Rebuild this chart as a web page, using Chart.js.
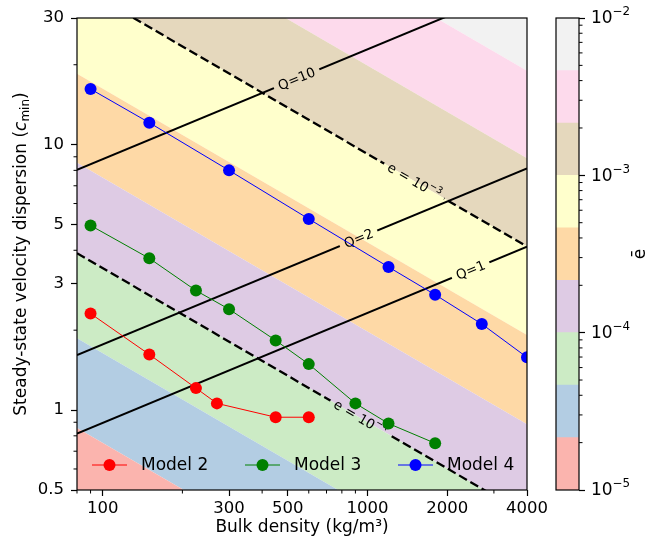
<!DOCTYPE html>
<html>
<head>
<meta charset="utf-8">
<script src="https://cdn.jsdelivr.net/npm/chart.js@4"></script>
<style>
  body { margin: 0; background: #fff; }
  #wrap { position: relative; width: 654px; height: 547px; }
  canvas { position: absolute; top: 0; }
</style>
</head>
<body>
<div id="wrap">
  <canvas id="chart" width="654" height="547" style="left:0"></canvas>
  <canvas id="cbar" width="114" height="547" style="left:540px"></canvas>
</div>
<script>
// ---------- DATOS ----------
const seriesNames = ['Model 2', 'Model 3', 'Model 4'];
const seriesColors = ['red', 'green', 'blue'];
const model2X = [90, 150, 225, 270, 450, 600];
const model2Y = [2.31, 1.62, 1.21, 1.06, 0.94, 0.94];
const model3X = [90, 150, 225, 300, 450, 600, 900, 1200, 1800];
const model3Y = [4.96, 3.73, 2.82, 2.40, 1.83, 1.49, 1.06, 0.89, 0.75];
const model4X = [90, 150, 300, 600, 1200, 1800, 2700, 4000];
const model4Y = [16.2, 12.1, 8.0, 5.25, 3.46, 2.72, 2.11, 1.58];

// niveles de ē (barra de color) y colores Pastel1
const eLevels = [1e-5, 2.15e-5, 4.64e-5, 1e-4, 2.15e-4, 4.64e-4, 1e-3, 2.15e-3, 4.64e-3, 1e-2];
const bandColors = ['#fbb4ae', '#b3cde3', '#ccebc5', '#decbe4', '#fed9a6', '#ffffcc', '#e5d8bd', '#fddaec', '#f2f2f2'];

// bordes de las bandas: y en x=80 y en x=4000
const bandX = [80, 4000];
const bandLeftY = [0.857, 1.865, 3.90, 8.55, 18.5, 39.9, 85.9, 183.5];
const bandRightY = [0.0886, 0.193, 0.403, 0.885, 1.92, 4.13, 8.88, 18.98];

// líneas Q (continuas) y e (discontinuas)
const qNames = ['Q=10', 'Q=2', 'Q=1'];
const qLeftY = [8.03, 1.61, 0.815];
const qRightY = [40.6, 8.14, 4.13];
const qLabelX = [540, 925, 2450];
const eNames = ['e = 10^-3', 'e = 10^-4'];
const eLeftY = [39.9, 3.90];
const eRightY = [4.13, 0.403];
const eLabelX = [1500, 940];

// ticks
const xTicks = [100, 300, 500, 1000, 2000, 4000];
const xMinor = [80, 90, 200, 400, 600, 700, 800, 900, 3000];
const yTicks = [0.5, 1, 3, 5, 10, 30];
const yMinor = [0.6, 0.7, 0.8, 0.9, 2, 4, 6, 7, 8, 9, 20];
const cbTicks = [1e-5, 1e-4, 1e-3, 1e-2];
const cbTickLabels = ['10^-5', '10^-4', '10^-3', '10^-2'];
const cbMinor = [2e-5, 3e-5, 4e-5, 5e-5, 6e-5, 7e-5, 8e-5, 9e-5,
                 2e-4, 3e-4, 4e-4, 5e-4, 6e-4, 7e-4, 8e-4, 9e-4,
                 2e-3, 3e-3, 4e-3, 5e-3, 6e-3, 7e-3, 8e-3, 9e-3];

const FONT = 'DejaVu Sans';
const LABEL_SIZE = 13.5;

// texto con exponente "base^sup"
function mathWidth(ctx, str, size) {
    const [base, sup] = str.split('^');
    ctx.font = size + 'px "DejaVu Sans"';
    let w = ctx.measureText(base).width;
    if (sup) {
        ctx.font = (size * 0.7) + 'px "DejaVu Sans"';
        w += ctx.measureText(sup.replace('-', '−')).width;
    }
    return w;
}
function drawMath(ctx, str, x, y, size, align) {
    const [base, sup] = str.split('^');
    const total = mathWidth(ctx, str, size);
    let x0 = align === 'center' ? x - total / 2 : x;
    ctx.textAlign = 'left';
    ctx.textBaseline = 'middle';
    ctx.font = size + 'px "DejaVu Sans"';
    ctx.fillText(base, x0, y);
    if (sup) {
        x0 += ctx.measureText(base).width;
        ctx.font = (size * 0.7) + 'px "DejaVu Sans"';
        ctx.fillText(sup.replace('-', '−'), x0, y - size * 0.4);
    }
}

// ---------- PLUGINS ----------
const frame = {
    id: 'frame',
    afterDatasetsDraw(chart) {
        const {ctx, chartArea: a} = chart;
        ctx.save();
        ctx.strokeStyle = '#000';
        ctx.lineWidth = 1.2;
        ctx.strokeRect(a.left, a.top, a.right - a.left, a.bottom - a.top);
        ctx.restore();
    }
};

const minorTicks = {
    id: 'minorTicks',
    afterDraw(chart, args, opts) {
        const {ctx, chartArea: a, scales} = chart;
        ctx.save();
        ctx.strokeStyle = '#000';
        ctx.lineWidth = 1;
        ctx.beginPath();
        (opts.x || []).forEach(v => {
            const p = scales.x.getPixelForValue(v);
            ctx.moveTo(p, a.bottom);
            ctx.lineTo(p, a.bottom + 3.5);
        });
        (opts.y || []).forEach(v => {
            const p = scales.y.getPixelForValue(v);
            if (opts.side === 'right') {
                ctx.moveTo(a.right, p);
                ctx.lineTo(a.right + 3.5, p);
            } else {
                ctx.moveTo(a.left - 3.5, p);
                ctx.lineTo(a.left, p);
            }
        });
        ctx.stroke();
        ctx.restore();
    }
};

// geometría de la etiqueta sobre una línea
function labelGeom(chart, index) {
    const ds = chart.data.datasets[index];
    const pts = chart.getDatasetMeta(index).data;
    const p0 = pts[0], p1 = pts[pts.length - 1];
    const cx = chart.scales.x.getPixelForValue(ds.labelAt);
    const t = (cx - p0.x) / (p1.x - p0.x);
    const cy = p0.y + t * (p1.y - p0.y);
    const ang = Math.atan2(p1.y - p0.y, p1.x - p0.x);
    const w = mathWidth(chart.ctx, ds.labelText, LABEL_SIZE) + 10;
    return {cx, cy, ang, w, h: 16};
}

const lineLabels = {
    id: 'lineLabels',
    beforeDatasetDraw(chart, args) {
        const ds = chart.data.datasets[args.index];
        if (!ds.labelText) return;
        const g = labelGeom(chart, args.index);
        const ctx = chart.ctx;
        const c = Math.cos(g.ang), s = Math.sin(g.ang);
        ctx.save();
        ctx.beginPath();
        ctx.rect(0, 0, chart.width, chart.height);
        [[-1, -1], [1, -1], [1, 1], [-1, 1]].forEach(([sx, sy], i) => {
            const dx = sx * g.w / 2, dy = sy * g.h / 2;
            const x = g.cx + dx * c - dy * s, y = g.cy + dx * s + dy * c;
            if (i) ctx.lineTo(x, y); else ctx.moveTo(x, y);
        });
        ctx.closePath();
        ctx.clip('evenodd');
    },
    afterDatasetDraw(chart, args) {
        const ds = chart.data.datasets[args.index];
        if (!ds.labelText) return;
        const ctx = chart.ctx;
        ctx.restore();
        const g = labelGeom(chart, args.index);
        ctx.save();
        ctx.translate(g.cx, g.cy);
        ctx.rotate(g.ang);
        ctx.fillStyle = '#000';
        drawMath(ctx, ds.labelText, 0, 1, LABEL_SIZE, 'center');
        ctx.restore();
    }
};

const modelLegend = {
    id: 'modelLegend',
    afterDatasetsDraw(chart) {
        const {ctx, chartArea: a} = chart;
        const y = a.bottom - 25;
        seriesNames.forEach((name, i) => {
            const x0 = a.left + 15 + i * 153;
            ctx.save();
            ctx.strokeStyle = seriesColors[i];
            ctx.fillStyle = seriesColors[i];
            ctx.lineWidth = 1;
            ctx.beginPath();
            ctx.moveTo(x0, y);
            ctx.lineTo(x0 + 35, y);
            ctx.stroke();
            ctx.beginPath();
            ctx.arc(x0 + 17.5, y, 6, 0, Math.PI * 2);
            ctx.fill();
            ctx.fillStyle = '#000';
            ctx.font = '17px "DejaVu Sans"';
            ctx.textBaseline = 'middle';
            ctx.fillText(name, x0 + 49, y + 1);
            ctx.restore();
        });
    }
};

// título del eje y con subíndice
const yTitle = {
    id: 'yTitle',
    afterDraw(chart) {
        const {ctx, chartArea: a} = chart;
        const parts = [
            {t: 'Steady-state velocity dispersion (', f: '17px "DejaVu Sans"', dy: 0},
            {t: 'c', f: 'italic 17px "DejaVu Sans"', dy: 0},
            {t: 'min', f: '12px "DejaVu Sans"', dy: 4},
            {t: ')', f: '17px "DejaVu Sans"', dy: 0}
        ];
        let total = 0;
        parts.forEach(p => { ctx.font = p.f; p.w = ctx.measureText(p.t).width; total += p.w; });
        ctx.save();
        ctx.translate(22, (a.top + a.bottom) / 2);
        ctx.rotate(-Math.PI / 2);
        ctx.fillStyle = '#000';
        ctx.textBaseline = 'middle';
        let x = -total / 2;
        parts.forEach(p => {
            ctx.font = p.f;
            ctx.fillText(p.t, x, p.dy);
            x += p.w;
        });
        ctx.restore();
    }
};

// etiquetas y título de la barra de color
const cbLabels = {
    id: 'cbLabels',
    afterDraw(chart) {
        const {ctx, chartArea: a, scales} = chart;
        ctx.save();
        ctx.fillStyle = '#000';
        cbTicks.forEach((v, i) => {
            drawMath(ctx, cbTickLabels[i], a.right + 12, scales.y.getPixelForValue(v) + 1, 17, 'left');
        });
        ctx.translate(a.right + 62, (a.top + a.bottom) / 2);
        ctx.rotate(-Math.PI / 2);
        ctx.font = '17px "DejaVu Sans"';
        ctx.textAlign = 'center';
        ctx.textBaseline = 'middle';
        ctx.fillText('ē', 0, 0);
        ctx.restore();
    }
};

// ---------- DATASETS ----------
const datasets = [];

// bandas de ē
bandLeftY.forEach((yl, k) => {
    datasets.push({
        data: [{x: bandX[0], y: yl}, {x: bandX[1], y: bandRightY[k]}],
        borderWidth: 0,
        borderColor: 'transparent',
        backgroundColor: bandColors[k],
        pointRadius: 0,
        fill: k === 0 ? 'start' : '-1',
        order: 3
    });
});
datasets.push({
    data: [{x: bandX[0], y: bandLeftY[7]}, {x: bandX[1], y: bandRightY[7]}],
    borderWidth: 0,
    borderColor: 'transparent',
    backgroundColor: bandColors[8],
    pointRadius: 0,
    fill: 'end',
    order: 3
});

// líneas Q
qNames.forEach((n, i) => {
    datasets.push({
        data: [{x: bandX[0], y: qLeftY[i]}, {x: bandX[1], y: qRightY[i]}],
        borderColor: '#000',
        borderWidth: 2,
        pointRadius: 0,
        fill: false,
        labelText: n,
        labelAt: qLabelX[i],
        order: 2
    });
});

// líneas e
eNames.forEach((n, i) => {
    datasets.push({
        data: [{x: bandX[0], y: eLeftY[i]}, {x: bandX[1], y: eRightY[i]}],
        borderColor: '#000',
        borderWidth: 2.3,
        borderDash: [9, 4],
        pointRadius: 0,
        fill: false,
        labelText: n,
        labelAt: eLabelX[i],
        order: 2
    });
});

// modelos
[[model2X, model2Y], [model3X, model3Y], [model4X, model4Y]].forEach(([xs, ys], i) => {
    datasets.push({
        label: seriesNames[i],
        data: xs.map((x, j) => ({x: x, y: ys[j]})),
        borderColor: seriesColors[i],
        backgroundColor: seriesColors[i],
        borderWidth: 1,
        pointRadius: 6,
        pointBorderWidth: 0,
        fill: false,
        clip: 0,
        order: 1
    });
});

// ---------- GRÁFICA PRINCIPAL ----------
new Chart(document.getElementById('chart'), {
    type: 'line',
    data: { datasets: datasets },
    plugins: [frame, minorTicks, lineLabels, modelLegend, yTitle],
    options: {
        responsive: false,
        animation: false,
        events: [],
        layout: { padding: { left: 0, top: 18, right: 127, bottom: 0 } },
        plugins: {
            legend: { display: false },
            tooltip: { enabled: false },
            filler: { drawTime: 'beforeDatasetsDraw' },
            minorTicks: { x: xMinor, y: yMinor, side: 'left' }
        },
        scales: {
            x: {
                type: 'logarithmic',
                min: 80,
                max: 4000,
                afterBuildTicks: s => { s.ticks = xTicks.map(v => ({value: v})); },
                afterFit: s => { s.height = 57; },
                ticks: {
                    autoSkip: false,
                    maxRotation: 0,
                    padding: 3,
                    color: '#000',
                    font: { family: FONT, size: 16.5 },
                    callback: v => String(v)
                },
                grid: { drawOnChartArea: false, tickLength: 6, tickColor: '#000', tickWidth: 1.2 },
                border: { display: false },
                title: {
                    display: true,
                    text: 'Bulk density (kg/m³)',
                    color: '#000',
                    font: { family: FONT, size: 17 },
                    padding: { top: 0, bottom: 9 }
                }
            },
            y: {
                type: 'logarithmic',
                min: 0.5,
                max: 30,
                afterBuildTicks: s => { s.ticks = yTicks.map(v => ({value: v})); },
                afterFit: s => { s.width = 77; },
                ticks: {
                    autoSkip: false,
                    padding: 7,
                    color: '#000',
                    font: { family: FONT, size: 16.5 },
                    callback: v => String(v)
                },
                grid: { drawOnChartArea: false, tickLength: 6, tickColor: '#000', tickWidth: 1.2 },
                border: { display: false }
            }
        }
    }
});

// ---------- BARRA DE COLOR ----------
new Chart(document.getElementById('cbar'), {
    type: 'bar',
    data: {
        labels: ['ē'],
        datasets: bandColors.map((c, i) => ({
            data: [[eLevels[i], eLevels[i + 1]]],
            backgroundColor: c,
            borderWidth: 0,
            grouped: false,
            barPercentage: 1,
            categoryPercentage: 1
        }))
    },
    plugins: [frame, minorTicks, cbLabels],
    options: {
        responsive: false,
        animation: false,
        events: [],
        layout: { padding: { left: 16, top: 18, right: 0, bottom: 57 } },
        plugins: {
            legend: { display: false },
            tooltip: { enabled: false },
            minorTicks: { y: cbMinor, side: 'right' }
        },
        scales: {
            x: { display: false },
            y: {
                type: 'logarithmic',
                position: 'right',
                min: 1e-5,
                max: 1e-2,
                afterBuildTicks: s => { s.ticks = cbTicks.map(v => ({value: v})); },
                afterFit: s => { s.width = 75; },
                ticks: {
                    autoSkip: false,
                    padding: 6,
                    color: '#000',
                    font: { family: FONT, size: 17 },
                    callback: () => ''
                },
                grid: { drawOnChartArea: false, tickLength: 6, tickColor: '#000', tickWidth: 1.2 },
                border: { display: false }
            }
        }
    }
});
</script>
</body>
</html>
